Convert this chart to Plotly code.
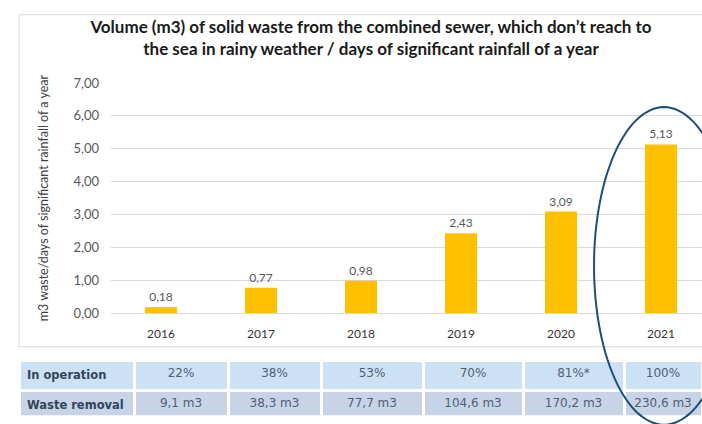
import numpy as np
import plotly.graph_objects as go

# Volume of collected waste per day of significant rainfall
years = ["2016", "2017", "2018", "2019", "2020", "2021"]
waste_per_rain_day = [0.18, 0.77, 0.98, 2.43, 3.09, 5.13]

# Table below the chart
row_labels = ["In operation", "Waste removal"]
in_operation = ["22%", "38%", "53%", "70%", "81%*", "100%"]
waste_removal = ["9,1 m3", "38,3 m3", "77,7 m3", "104,6 m3", "170,2 m3", "230,6 m3"]

W, H = 702, 424


def px(x):
    return x / W


def py(y):
    return 1 - y / H


def nowrap(s):
    return s.replace(" ", "\u00a0")


def ellipse_path(cx, cy, rx, ry, n=120):
    """Closed ellipse outline given in pixels, returned in paper units."""
    t = np.linspace(0, 2 * np.pi, n, endpoint=False)
    xs = cx + rx * np.cos(t)
    ys = cy + ry * np.sin(t)
    pts = [f"{px(x):.4f},{py(y):.4f}" for x, y in zip(xs, ys)]
    return "M " + " L ".join(pts) + " Z"


fig = go.Figure()

fig.add_trace(go.Bar(
    x=years,
    y=waste_per_rain_day,
    width=0.32,
    marker=dict(color="#FFC000", line=dict(width=0)),
    texttemplate="%{y:.2f}",
    textposition="outside",
    textfont=dict(family="Lato", size=12, color="#595959"),
    cliponaxis=False,
    showlegend=False,
    hoverinfo="skip",
))

label_color = "#33455c"
value_color = "#4f6077"
table_font = dict(family="DejaVu Sans",
                  size=[11.5] + [12] * 6,
                  color=[label_color] + [value_color] * 6)

fig.add_trace(go.Table(
    domain=dict(x=[px(19), 1], y=[0, py(366)]),
    columnwidth=[115, 94, 93, 102, 100, 101, 78],
    header=dict(
        values=[f"<b>{nowrap(row_labels[0])}</b>"] + in_operation,
        fill_color="#cde1f4",
        line=dict(color="white", width=3),
        height=26,
        align=["left"] + ["center"] * 6,
        font=table_font,
    ),
    cells=dict(
        values=[[f"<b>{nowrap(row_labels[1])}</b>"]] + [[v] for v in waste_removal],
        fill_color="#c7d3e6",
        line=dict(color="white", width=3),
        height=32,
        align=["left"] + ["center"] * 6,
        font=table_font,
    ),
))

fig.update_layout(
    width=W,
    height=H,
    margin=dict(l=0, r=0, t=0, b=0),
    paper_bgcolor="white",
    plot_bgcolor="white",
    separators=",.",
    title=dict(
        text="Volume (m3) of solid waste from the combined sewer, which don\u2019t reach to"
             "<br>the sea in rainy weather / days of significant rainfall of a year",
        x=px(371), xanchor="center",
        y=py(32.5), yanchor="middle",
        font=dict(family="Lato", size=17, color="#1a1a1a", weight="bold"),
    ),
    xaxis=dict(
        domain=[px(111), 1],
        range=[-0.5, 5.41],
        showgrid=False,
        showline=False,
        ticks="",
        ticklabelstandoff=12,
        tickfont=dict(family="Lato", size=12, color="#333333"),
        fixedrange=True,
    ),
    yaxis=dict(
        domain=[py(317), py(78)],
        range=[0, 7],
        dtick=1,
        tickformat=".2f",
        showgrid=True,
        gridcolor="#d9d9d9",
        gridwidth=1,
        zeroline=True,
        zerolinecolor="#d9d9d9",
        zerolinewidth=1,
        ticks="",
        ticklabelstandoff=11,
        tickfont=dict(family="Lato", size=13, color="#595959"),
        title=dict(
            text="m3 waste/days of significant rainfall of a year",
            font=dict(family="Lato", size=12.5, color="#404040"),
            standoff=22,
        ),
        fixedrange=True,
    ),
    shapes=[
        dict(type="rect", xref="paper", yref="paper",
             x0=px(19), x1=px(710), y0=py(352), y1=py(7),
             line=dict(color="#d9d9d9", width=1), fillcolor="rgba(0,0,0,0)",
             layer="below"),
        # highlight ring around the 2021 column
        dict(type="path", xref="paper", yref="paper",
             path=ellipse_path(664, 268, 70, 165),
             line=dict(color="#1f4e79", width=2),
             fillcolor="rgba(0,0,0,0)", layer="above"),
    ],
)

fig.write_html("out.html")
